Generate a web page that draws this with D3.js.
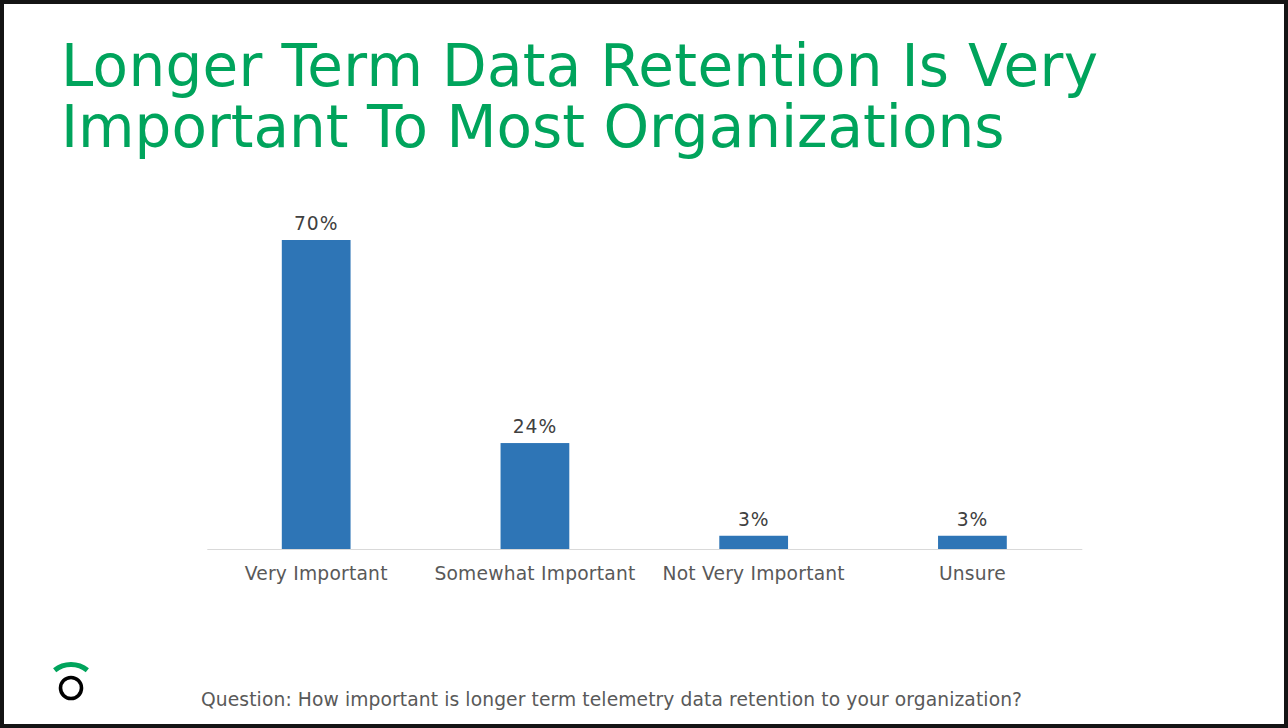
<!DOCTYPE html>
<html>
<head>
<meta charset="utf-8">
<script src="https://cdnjs.cloudflare.com/ajax/libs/d3/7.8.5/d3.min.js"></script>
<style>
html, body { margin: 0; padding: 0; background: #fff; overflow: hidden; }
text { font-family: "DejaVu Sans", Verdana, sans-serif; }
</style>
</head>
<body>
<div id="panel"></div>
<script>
var categories = ['Very Important', 'Somewhat Important', 'Not Very Important', 'Unsure'];
var values = [70, 24, 3, 3];
var titleLines = ['Longer Term Data Retention Is Very', 'Important To Most Organizations'];
var question = 'Question: How important is longer term telemetry data retention to your organization?';

var w = 1288;
var h = 728;
var svg = d3.select('#panel').append('svg').attr('width', w).attr('height', h).style('display', 'block');

// slide frame
svg.append('rect')
  .attr('x', 2).attr('y', 2)
  .attr('width', w - 4).attr('height', h - 4)
  .attr('fill', '#fff')
  .attr('stroke', '#141414')
  .attr('stroke-width', 4);

svg.selectAll('.title')
  .data(titleLines)
  .enter()
  .append('text')
  .attr('class', 'title')
  .attr('x', 61)
  .attr('y', function (d, i) { return 86 + i * 61; })
  .attr('fill', '#00a45c')
  .style('font-size', '58px')
  .style('letter-spacing', function (d, i) { return i === 0 ? '0.3px' : '0'; })
  .text(function (d) { return d; });

var x = d3.scaleBand().domain(categories).range([206.8, 1081.8]).paddingInner(0.6857).paddingOuter(0.3429);
var y = d3.scaleLinear().domain([0, 70]).range([549, 240]);

svg.selectAll('.bar')
  .data(values)
  .enter()
  .append('rect')
  .attr('class', 'bar')
  .attr('x', function (d, i) { return x(categories[i]); })
  .attr('y', function (d) { return y(d); })
  .attr('width', x.bandwidth())
  .attr('height', function (d) { return y(0) - y(d); })
  .attr('fill', '#2e75b6');

svg.selectAll('.val')
  .data(values)
  .enter()
  .append('text')
  .attr('class', 'val')
  .attr('x', function (d, i) { return x(categories[i]) + x.bandwidth() / 2; })
  .attr('y', function (d) { return y(d) - 10; })
  .attr('text-anchor', 'middle')
  .attr('fill', '#404040')
  .style('font-size', '18.7px')
  .style('letter-spacing', '0.9px')
  .text(function (d) { return d + '%'; });

var axis = svg.append('g')
  .attr('transform', 'translate(0,549)')
  .call(d3.axisBottom(x).tickSize(0).tickPadding(18));
axis.select('.domain').attr('stroke', '#d9d9d9');
axis.selectAll('text')
  .attr('fill', '#595959')
  .style('font-size', '18.7px')
  .style('letter-spacing', '0.2px')
  .style('font-family', '"DejaVu Sans", Verdana, sans-serif');

svg.append('text')
  .attr('x', 201)
  .attr('y', 706)
  .attr('fill', '#595959')
  .style('font-size', '18.7px')
  .style('letter-spacing', '0.1px')
  .text(question);

// logo
svg.append('circle')
  .attr('cx', 71).attr('cy', 688).attr('r', 10.5)
  .attr('fill', 'none')
  .attr('stroke', '#000')
  .attr('stroke-width', 3.6);

svg.append('path')
  .attr('d', d3.arc()({ innerRadius: 23.5, outerRadius: 28.5, startAngle: -0.68, endAngle: 0.68, cornerRadius: 1 }))
  .attr('transform', 'translate(71,690.5)')
  .attr('fill', '#00a45c');
</script>
</body>
</html>
